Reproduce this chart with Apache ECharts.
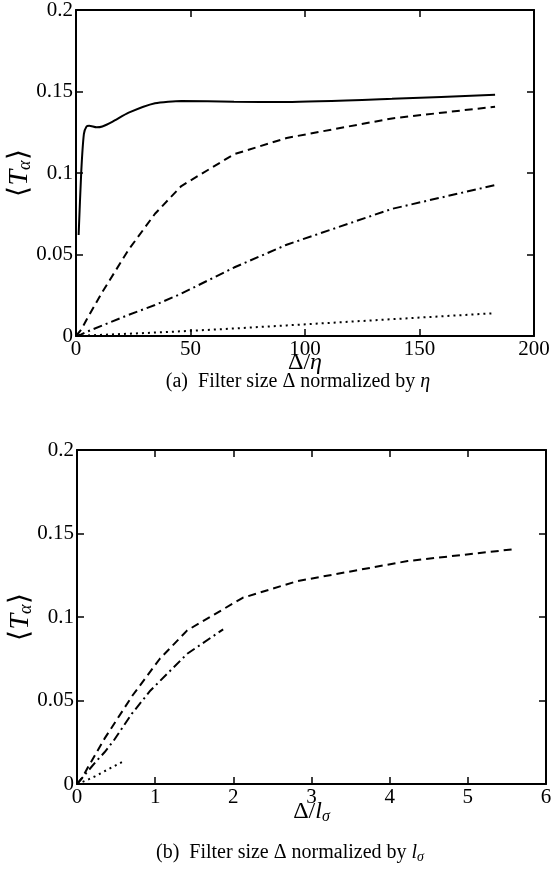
<!DOCTYPE html>
<html><head><meta charset="utf-8">
<script src="https://cdn.jsdelivr.net/npm/echarts@6/dist/echarts.min.js"></script>
<style>html,body{margin:0;padding:0;background:#fff}#c{width:552px;height:873px}</style>
</head><body><div id="c"></div>
<script>
// ---- data (a): Δ/η ----
const xEta = [0, 2.3, 4.6, 11.5, 23, 34.5, 46, 69, 92, 138, 183];
const xEtaSolid = [1.15, 2.3, 3.45, 4.6, 5.75, 9, 11.5, 16, 23, 34.5, 46, 69, 92, 138, 183];
const solidVals = [0.062, 0.101, 0.124, 0.1285, 0.129, 0.128, 0.1285, 0.1315, 0.137, 0.1428, 0.1442, 0.1437, 0.1436, 0.1455, 0.148];
const dashedVals = [0, 0.004, 0.010, 0.027, 0.053, 0.075, 0.092, 0.1115, 0.1215, 0.1335, 0.1407];
const dashDotVals = [0, 0.001, 0.0025, 0.0065, 0.013, 0.019, 0.026, 0.042, 0.056, 0.078, 0.0926];
const dottedVals = [0, 0.0001, 0.0003, 0.0007, 0.0014, 0.0021, 0.0029, 0.0046, 0.0065, 0.0103, 0.014];
// ---- data (b): Δ/lσ ----
const xSigDashed = [0, 0.07, 0.14, 0.35, 0.71, 1.06, 1.41, 2.12, 2.82, 4.23, 5.61];
const xSigDashDot = [0, 0.023, 0.047, 0.117, 0.235, 0.352, 0.47, 0.70, 0.94, 1.41, 1.87];
const xSigDotted = [0, 0.008, 0.015, 0.038, 0.077, 0.115, 0.153, 0.23, 0.307, 0.46, 0.61];
const yTicks = [0, 0.05, 0.1, 0.15, 0.2];
const xTicksA = [0, 50, 100, 150, 200];
const xTicksB = [0, 1, 2, 3, 4, 5, 6];

const FONT = 'Liberation Serif';
const pairs = (xs, ys) => xs.map((x, i) => [x, ys[i]]);
const chart = echarts.init(document.getElementById('c'));

const axisLine = { show: true, onZero: false, lineStyle: { color: '#000', width: 2 } };
const tick = { show: true, inside: true, length: 7, lineStyle: { color: '#000', width: 1.5 } };
const label = { color: '#000', fontFamily: FONT, fontSize: 21 };
const yName = {
  name: '{a|⟨}{t|T}{s|α}{a|⟩}',
  nameLocation: 'middle', nameRotate: 90, nameGap: 42, nameMoveOverlap: false,
  nameTextStyle: { rich: {
    a: { fontFamily: FONT, fontSize: 28, color: '#000' },
    t: { fontFamily: FONT, fontSize: 28, fontStyle: 'italic', color: '#000' },
    s: { fontFamily: FONT, fontSize: 18, fontStyle: 'italic', color: '#000', padding: [10, 0, 0, 0] }
  } }
};
const xNameStyle = { rich: {
  a: { fontFamily: FONT, fontSize: 24, color: '#000' },
  b: { fontFamily: FONT, fontSize: 24, fontStyle: 'italic', color: '#000' },
  c: { fontFamily: FONT, fontSize: 16, fontStyle: 'italic', color: '#000', padding: [10, 0, 0, 0] }
} };
const lineS = (type) => ({ color: '#000', width: 2, type: type });
const capRich = { r: { fontFamily: FONT, fontSize: 20, color: '#000' },
  i: { fontFamily: FONT, fontSize: 20, fontStyle: 'italic', color: '#000' },
  s: { fontFamily: FONT, fontSize: 14, fontStyle: 'italic', color: '#000', padding: [8, 0, 0, 0] } };

const option = {
  animation: false,
  graphic: [
    { type: 'text', x: 298, y: 382, style: { text: '{r|(a)  Filter size Δ normalized by }{i|η}', rich: capRich, align: 'center', verticalAlign: 'middle' } },
    { type: 'text', x: 290, y: 853, style: { text: '{r|(b)  Filter size Δ normalized by }{i|l}{s|σ}', rich: capRich, align: 'center', verticalAlign: 'middle' } }
  ],
  grid: [
    { left: 76, top: 10, width: 458, height: 326, containLabel: false, outerBoundsMode: 'none' },
    { left: 77, top: 450, width: 469, height: 334, containLabel: false, outerBoundsMode: 'none' }
  ],
  xAxis: [
    { gridIndex: 0, type: 'value', min: xTicksA[0], max: xTicksA[xTicksA.length - 1], interval: 50,
      axisLine, axisTick: tick, splitLine: { show: false }, axisLabel: Object.assign({ margin: 3 }, label),
      name: '{a|Δ/}{b|η}', nameLocation: 'middle', nameGap: 15, nameMoveOverlap: false, nameTextStyle: xNameStyle },
    { gridIndex: 0, type: 'value', position: 'top', min: 0, max: 200, interval: 50,
      axisLine, axisTick: tick, splitLine: { show: false }, axisLabel: { show: false } },
    { gridIndex: 1, type: 'value', min: xTicksB[0], max: xTicksB[xTicksB.length - 1], interval: 1,
      axisLine, axisTick: tick, splitLine: { show: false }, axisLabel: Object.assign({ margin: 3 }, label),
      name: '{a|Δ/}{b|l}{c|σ}', nameLocation: 'middle', nameGap: 15, nameMoveOverlap: false, nameTextStyle: xNameStyle },
    { gridIndex: 1, type: 'value', position: 'top', min: 0, max: 6, interval: 1,
      axisLine, axisTick: tick, splitLine: { show: false }, axisLabel: { show: false } }
  ],
  yAxis: [
    Object.assign({ gridIndex: 0, type: 'value', min: yTicks[0], max: yTicks[yTicks.length - 1], interval: 0.05,
      axisLine, axisTick: tick, splitLine: { show: false }, axisLabel: Object.assign({ margin: 3 }, label) }, yName),
    { gridIndex: 0, type: 'value', position: 'right', min: 0, max: 0.2, interval: 0.05,
      axisLine, axisTick: tick, splitLine: { show: false }, axisLabel: { show: false } },
    Object.assign({ gridIndex: 1, type: 'value', min: yTicks[0], max: yTicks[yTicks.length - 1], interval: 0.05,
      axisLine, axisTick: tick, splitLine: { show: false }, axisLabel: Object.assign({ margin: 3 }, label) }, yName),
    { gridIndex: 1, type: 'value', position: 'right', min: 0, max: 0.2, interval: 0.05,
      axisLine, axisTick: tick, splitLine: { show: false }, axisLabel: { show: false } }
  ],
  series: [
    { type: 'line', xAxisIndex: 0, yAxisIndex: 0, data: pairs(xEtaSolid, solidVals), showSymbol: false, smooth: 0.2, lineStyle: lineS('solid') },
    { type: 'line', xAxisIndex: 0, yAxisIndex: 0, data: pairs(xEta, dashedVals), showSymbol: false, lineStyle: lineS([8, 5]) },
    { type: 'line', xAxisIndex: 0, yAxisIndex: 0, data: pairs(xEta, dashDotVals), showSymbol: false, lineStyle: lineS([9, 4, 2, 4]) },
    { type: 'line', xAxisIndex: 0, yAxisIndex: 0, data: pairs(xEta, dottedVals), showSymbol: false, lineStyle: lineS([2, 4]) },
    { type: 'line', xAxisIndex: 2, yAxisIndex: 2, data: pairs(xSigDashed, dashedVals), showSymbol: false, lineStyle: lineS([8, 5]) },
    { type: 'line', xAxisIndex: 2, yAxisIndex: 2, data: pairs(xSigDashDot, dashDotVals), showSymbol: false, lineStyle: lineS([9, 4, 2, 4]) },
    { type: 'line', xAxisIndex: 2, yAxisIndex: 2, data: pairs(xSigDotted, dottedVals), showSymbol: false, lineStyle: lineS([2, 4]) }
  ]
};
chart.setOption(option);
</script></body></html>
